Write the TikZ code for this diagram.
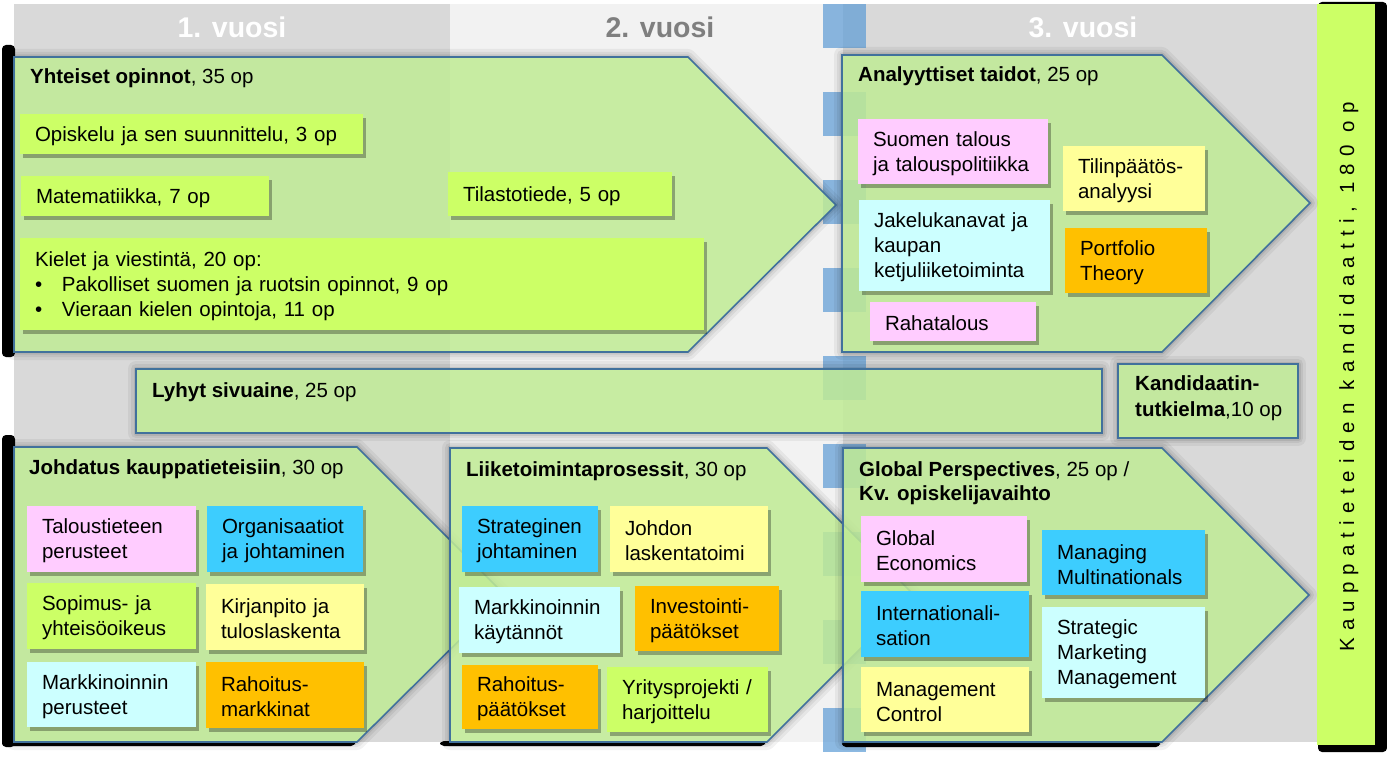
\documentclass[tikz,border=0pt]{standalone}
\usepackage{fontspec}
\setmainfont{Liberation Sans}
\usetikzlibrary{shadows}
\definecolor{bgdark}{HTML}{D9D9D9}
\definecolor{bglight}{HTML}{F2F2F2}
\definecolor{arrowfill}{HTML}{C0EB95}
\definecolor{arrowline}{HTML}{41719C}
\definecolor{sqblue}{HTML}{5B9BD5}
\definecolor{cgreen}{HTML}{CCFF66}
\definecolor{cpink}{HTML}{FFCCFF}
\definecolor{ccyan}{HTML}{CCFFFF}
\definecolor{cyellow}{HTML}{FFFF99}
\definecolor{corange}{HTML}{FFC000}
\definecolor{cblue}{HTML}{3DCDFE}
\definecolor{headgray}{HTML}{7F7F7F}
\newcommand\txtfont{\fontsize{20.5}{25}\selectfont}
\newcommand\hdfont{\fontsize{28.5}{34}\selectfont\bfseries}
\newcommand\bx[7]{%
  \pgfmathsetlengthmacro\bxtw{#5-30}%
  \node[smallbox, fill=#2, minimum width=#5pt, minimum height=#6pt, text width=\bxtw, anchor=north west] (#1) at (#3,#4) {\rule{0pt}{19pt}#7};}
\newcommand\glowpath[1]{%
  \begin{scope}[even odd rule]
    \clip (-20,-20) rectangle (1410,780) #1;
    \draw[line width=16pt, draw=black, draw opacity=0.05, line join=round] #1;
    \draw[line width=10pt, draw=black, draw opacity=0.06, line join=round] #1;
    \draw[line width=5pt, draw=black, draw opacity=0.08, line join=round] #1;
  \end{scope}}
\newcommand\shapewithglow[1]{\glowpath{#1}\path[bigshape] #1;}
\begin{document}
\begin{tikzpicture}[x=1pt,y=-1pt,
  bigshape/.style={fill=arrowfill, fill opacity=0.85, draw=arrowline, line width=1.6pt},
  smallbox/.style={inner xsep=15pt, inner ysep=2pt, outer sep=0pt, align=left, font=\txtfont,
    drop shadow={shadow xshift=3pt, shadow yshift=-4pt, fill=black, opacity=0.3}},
  ttl/.style={anchor=base west, inner sep=0pt, font=\txtfont},
  hdr/.style={anchor=base, inner sep=0pt, font=\hdfont},
  blk/.style={fill=black, rounded corners=4pt}]
\useasboundingbox (0,0) rectangle (1387,757);
% background columns
\fill[bgdark] (14,4) rectangle (450,742);
\fill[bglight] (450,4) rectangle (843,742);
\fill[bgdark] (843,4) rectangle (1317,742);
% blue squares
\foreach \k in {0,...,8} \fill[sqblue, opacity=0.7] (823,{4+88*\k}) rectangle (866,{48+88*\k});
% black shadows
\fill[blk] (2,45) rectangle (15,357);
\fill[blk] (2,435) rectangle (15,747);
\fill[blk] (2,741) rectangle (355,746);
\fill[blk] (440,741) rectangle (765,746);
\fill[blk] (842,741) rectangle (1160,747);
\fill[blk] (1318,2) rectangle (1387,752);
\fill[cgreen] (1317,4) rectangle (1375,745);
% big shapes
\shapewithglow{(14,57) -- (688,57) -- (836,205) -- (688,352) -- (14,352) -- cycle}
\shapewithglow{(842,55) -- (1162,55) -- (1310,203) -- (1162,352) -- (842,352) -- cycle}
\shapewithglow{(136,369) rectangle (1102,433)}
\shapewithglow{(1118,364) rectangle (1298,438)}
\shapewithglow{(14,447) -- (357,447) -- (505,595) -- (357,742) -- (14,742) -- cycle}
\shapewithglow{(450,448) -- (767,448) -- (914,595) -- (767,742) -- (450,742) -- cycle}
\shapewithglow{(843,448) -- (1162,448) -- (1309,595) -- (1162,742) -- (843,742) -- cycle}
% headers
\node[hdr, text=white] (h1) at (232,38) {1. vuosi};
\node[hdr, text=headgray] (h2) at (660,38) {2. vuosi};
\node[hdr, text=white] (h3) at (1083,38) {3. vuosi};
% titles
\node[ttl] (tYht) at (30,84) {\textbf{Yhteiset opinnot}, 35 op};
\node[ttl] (tAna) at (858,82) {\textbf{Analyyttiset taidot}, 25 op};
\node[ttl] (tLyh) at (152,397) {\textbf{Lyhyt sivuaine}, 25 op};
\node[ttl] (tKan1) at (1135,390) {\textbf{Kandidaatin-}};
\node[ttl] (tKan2) at (1135,416) {\textbf{tutkielma},10 op};
\node[ttl] (tJoh) at (29,474) {\textbf{Johdatus kauppatieteisiin}, 30 op};
\node[ttl] (tLii) at (466,476) {\textbf{Liiketoimintaprosessit}, 30 op};
\node[ttl] (tGlo1) at (859,476) {\textbf{Global Perspectives}, 25 op /};
\node[ttl] (tGlo2) at (859,500) {\textbf{Kv. opiskelijavaihto}};
% Yhteiset opinnot
\bx{bOpis}{cgreen}{20}{114}{343}{40}{Opiskelu ja sen suunnittelu, 3 op}
\bx{bMate}{cgreen}{21}{176}{248}{40}{Matematiikka, 7 op}
\bx{bTila}{cgreen}{448}{172}{224}{44}{Tilastotiede, 5 op}
\bx{bKiel}{cgreen}{20}{238}{684}{92}{Kielet ja viestintä, 20 op:\\
\makebox[27pt][l]{\textbullet}Pakolliset suomen ja ruotsin opinnot, 9 op\\
\makebox[27pt][l]{\textbullet}Vieraan kielen opintoja, 11 op}
% Analyyttiset taidot
\bx{aSuom}{cpink}{858}{119}{190}{65}{Suomen talous\\ja talouspolitiikka}
\bx{aJake}{ccyan}{859}{200}{191}{91}{Jakelukanavat ja\\kaupan\\ketjuliiketoiminta}
\bx{aRaha}{cpink}{870}{302}{166}{39}{Rahatalous}
\bx{aTili}{cyellow}{1063}{146}{142}{65}{Tilinpäätös-\\analyysi}
\bx{aPort}{corange}{1065}{228}{142}{65}{Portfolio\\Theory}
% Johdatus kauppatieteisiin
\bx{jTalo}{cpink}{27}{506}{169}{66}{Taloustieteen\\perusteet}
\bx{jOrga}{cblue}{207}{506}{156}{66}{Organisaatiot\\ja johtaminen}
\bx{jSopi}{cgreen}{27}{583}{169}{66}{Sopimus- ja\\yhteisöoikeus}
\bx{jKirj}{cyellow}{206}{584}{158}{66}{Kirjanpito ja\\tuloslaskenta}
\bx{jMark}{ccyan}{27}{662}{169}{65}{Markkinoinnin\\perusteet}
\bx{jRaho}{corange}{206}{662}{158}{66}{Rahoitus-\\markkinat}
% Liiketoimintaprosessit
\bx{lStra}{cblue}{462}{506}{136}{66}{Strateginen\\johtaminen}
\bx{lJohd}{cyellow}{610}{506}{158}{66}{Johdon\\laskentatoimi}
\bx{lMark}{ccyan}{459}{587}{161}{66}{Markkinoinnin\\käytännöt}
\bx{lInve}{corange}{635}{586}{144}{65}{Investointi-\\päätökset}
\bx{lRaho}{corange}{462}{665}{136}{64}{Rahoitus-\\päätökset}
\bx{lYrit}{cgreen}{607}{667}{161}{65}{Yritysprojekti /\\harjoittelu}
% Global Perspectives
\bx{gGlob}{cpink}{861}{516}{166}{66}{Global\\Economics}
\bx{gMana}{cblue}{1042}{530}{163}{65}{Managing\\Multinationals}
\bx{gInte}{cblue}{861}{591}{168}{66}{Internationali-\\sation}
\bx{gStra}{ccyan}{1042}{607}{163}{91}{Strategic\\Marketing\\Management}
\bx{gMgmt}{cyellow}{861}{667}{168}{65}{Management\\Control}
% vertical label
\node[rotate=90, anchor=base, inner sep=0pt, font=\txtfont] (kk) at (1354,377)
  {\addfontfeature{LetterSpace=35}Kauppatieteiden kandidaatti, 180 op};
\end{tikzpicture}
\end{document}
